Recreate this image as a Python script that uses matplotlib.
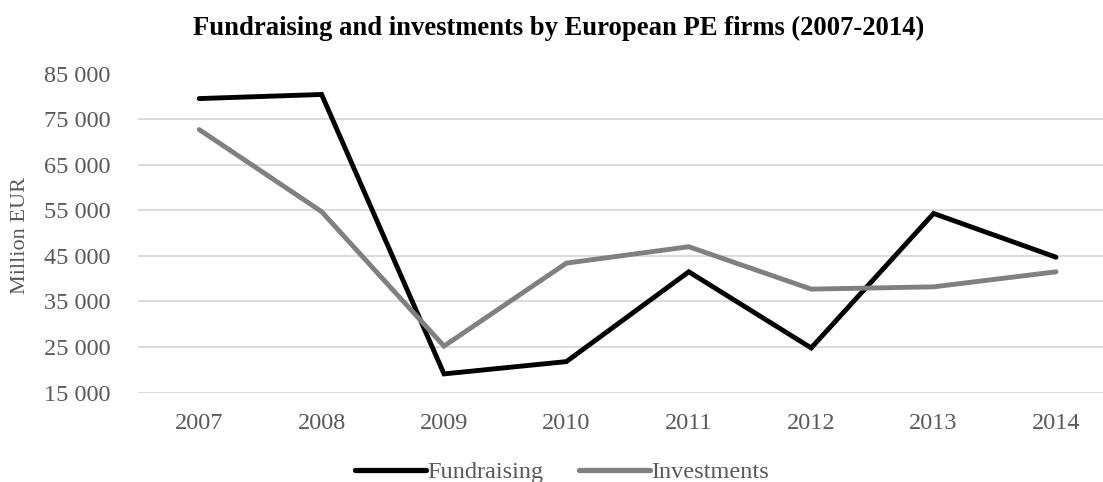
import numpy as np
import matplotlib.pyplot as plt
from matplotlib.ticker import FuncFormatter

# yearly totals, million EUR
years = ['2007', '2008', '2009', '2010', '2011', '2012', '2013', '2014']
fundraising = [79500, 80400, 19100, 21800, 41500, 24800, 54300, 44700]
investments = [72700, 54700, 25200, 43400, 47000, 37700, 38200, 41500]

plt.rcParams['font.family'] = ['Liberation Serif', 'DejaVu Serif']

fig = plt.figure(figsize=(11.03, 4.82), dpi=100)
ax = fig.add_axes([138 / 1103, 1 - 392.6 / 482, 1 - 138 / 1103, (392.6 - 73.5) / 482])

x = np.arange(len(years))
ax.plot(x, fundraising, color='black', linewidth=3.5, label='Fundraising',
        solid_capstyle='round', solid_joinstyle='miter')
ax.plot(x, investments, color='#808080', linewidth=3.5, label='Investments',
        solid_capstyle='round', solid_joinstyle='miter')

ax.set_ylim(15000, 85000)
ax.set_yticks(range(15000, 85001, 10000))
ax.yaxis.set_major_formatter(FuncFormatter(lambda v, p: f'{int(v):,}'.replace(',', ' ')))
ax.set_xlim(-0.5, -0.5 + 965 / 122.4)
ax.set_xticks(x)
ax.set_xticklabels(years)

ax.grid(axis='y', color='#d9d9d9', linewidth=1.3)
ax.set_axisbelow(True)
for s in ax.spines.values():
    s.set_visible(False)
ax.tick_params(length=0, labelsize=17.5, labelcolor='#595959')
ax.tick_params(axis='y', pad=20)
ax.tick_params(axis='x', pad=15)

fig.text(21 / 1103, 1 - 235 / 482, 'Million EUR', rotation=90, ha='center', va='center',
         fontsize=16, color='#595959')
fig.text(559 / 1103, 1 - 28 / 482, 'Fundraising and investments by European PE firms (2007-2014)',
         ha='center', va='center', fontsize=19.2, fontweight='bold')

leg = fig.legend(loc='center', bbox_to_anchor=(562 / 1103, 1 - 472 / 482), ncol=2, frameon=False,
                 fontsize=17.5, handlelength=2.9, handletextpad=0.05, columnspacing=1.5,
                 labelcolor='#595959')
for h in leg.get_lines():
    h.set_linewidth(3.8)

fig.savefig('out.png', dpi=100)
